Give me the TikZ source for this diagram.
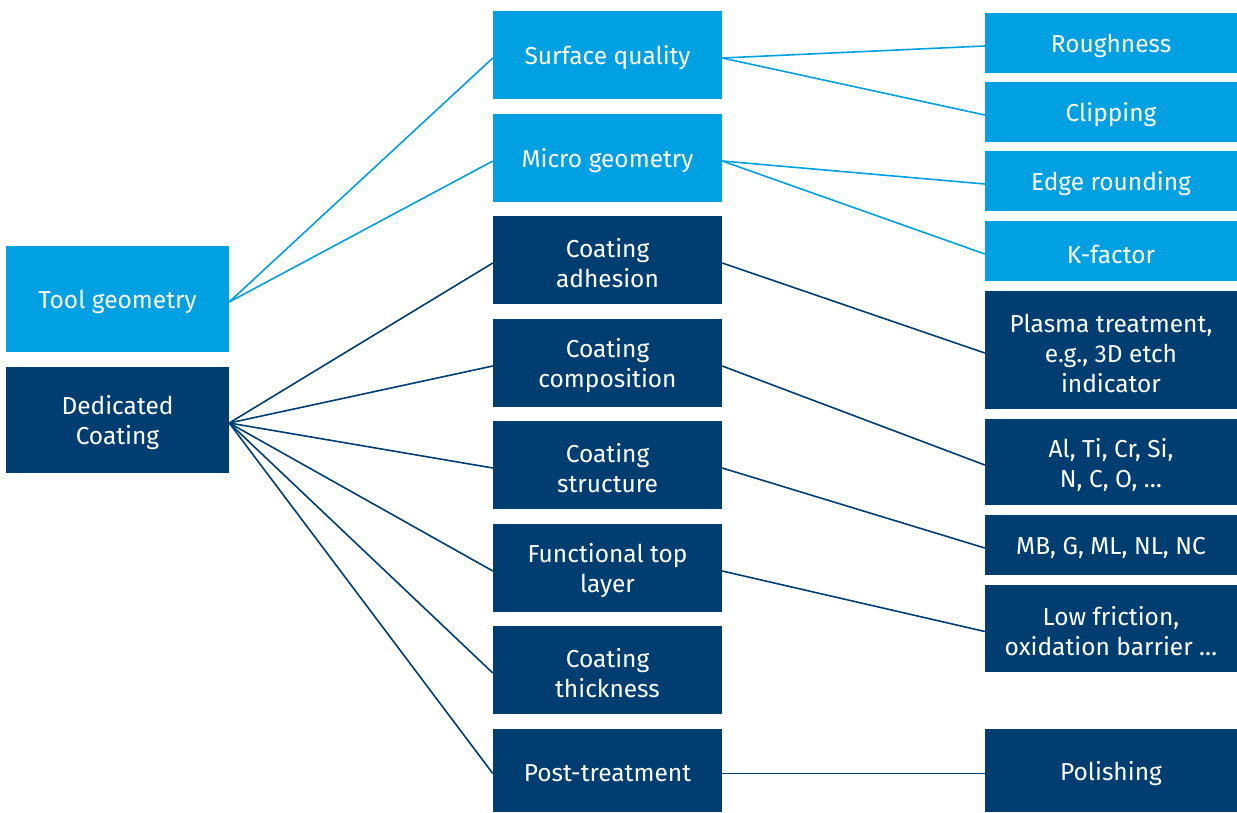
\documentclass[tikz,border=0pt]{standalone}
\usepackage{fontspec}
\setmainfont{Fira Sans}
\definecolor{lightblue}{HTML}{00A0E2}
\definecolor{darkblue}{HTML}{003E72}
\begin{document}
\begin{tikzpicture}[x=1pt,y=-1pt,
  % the text sits a little below the middle of each box:
  % nodes are placed 3pt low and their fill is raised by the same amount
  box/.style={rectangle, inner sep=0pt, text=white, align=center,
    font=\fontsize{24.5}{30}\selectfont},
  light/.style={box, preaction={fill=lightblue, transform canvas={yshift=3pt}}},
  dark/.style={box, preaction={fill=darkblue, transform canvas={yshift=3pt}}},
  leftcol/.style={minimum width=223pt, minimum height=106pt},
  midcol/.style={minimum width=229pt, minimum height=88pt},
  rightcol/.style={minimum width=252pt},
  lline/.style={draw=lightblue, line width=1.6pt},
  dline/.style={draw=darkblue, line width=1.6pt}]
\useasboundingbox (0,0) rectangle (1237,813);

% root column
\node[light, leftcol] (tg) at (117.5,302) {Tool geometry};
\node[dark, leftcol] (dc) at (117.5,423) {Dedicated\\Coating};

% middle column
\node[light, midcol] (sq) at (607.5,58) {Surface quality};
\node[light, midcol] (mg) at (607.5,161) {Micro geometry};
\node[dark, midcol] (ca) at (607.5,263) {Coating\\adhesion};
\node[dark, midcol] (cc) at (607.5,366) {Coating\\composition};
\node[dark, midcol] (cs) at (607.5,468) {Coating\\structure};
\node[dark, midcol] (ft) at (607.5,571) {Functional top\\layer};
\node[dark, midcol] (ct) at (607.5,673) {Coating\\thickness};
\node[dark, midcol, minimum height=83pt] (pt) at (607.5,773.5) {Post-treatment};

% right column
\node[light, rightcol, minimum height=60pt] (ro) at (1111,46) {Roughness};
\node[light, rightcol, minimum height=60pt] (cl) at (1111,115) {Clipping};
\node[light, rightcol, minimum height=60pt] (er) at (1111,184) {Edge rounding};
\node[light, rightcol, minimum height=60pt] (kf) at (1111,254) {K-factor};
\node[dark, rightcol, minimum height=118pt] (pl) at (1111,353) {Plasma treatment,\\e.g., 3D etch\\indicator};
\node[dark, rightcol, minimum height=86pt] (el) at (1111,465) {Al, Ti, Cr, Si,\\N, C, O, \dots};
\node[dark, rightcol, minimum height=60pt] (mb) at (1111,548) {MB, G, ML, NL, NC};
\node[dark, rightcol, minimum height=87pt] (lf) at (1111,631.5) {Low friction,\\oxidation barrier \dots};
\node[dark, rightcol, minimum height=83pt] (po) at (1111,773.5) {Polishing};

% connectors from the roots
\draw[lline] (tg.east) -- (sq.west);
\draw[lline] (tg.east) -- (mg.west);
\foreach \m in {ca,cc,cs,ft,ct,pt}
  \draw[dline] (dc.east) -- (\m.west);

% connectors to the details
\draw[lline] (sq.east) -- (ro.west);
\draw[lline] (sq.east) -- (cl.west);
\draw[lline] (mg.east) -- (er.west);
\draw[lline] (mg.east) -- (kf.west);
\draw[dline] (ca.east) -- (pl.west);
\draw[dline] (cc.east) -- (el.west);
\draw[dline] (cs.east) -- (mb.west);
\draw[dline] (ft.east) -- (lf.west);
\draw[dline] (pt.east) -- (po.west);
\end{tikzpicture}
\end{document}
